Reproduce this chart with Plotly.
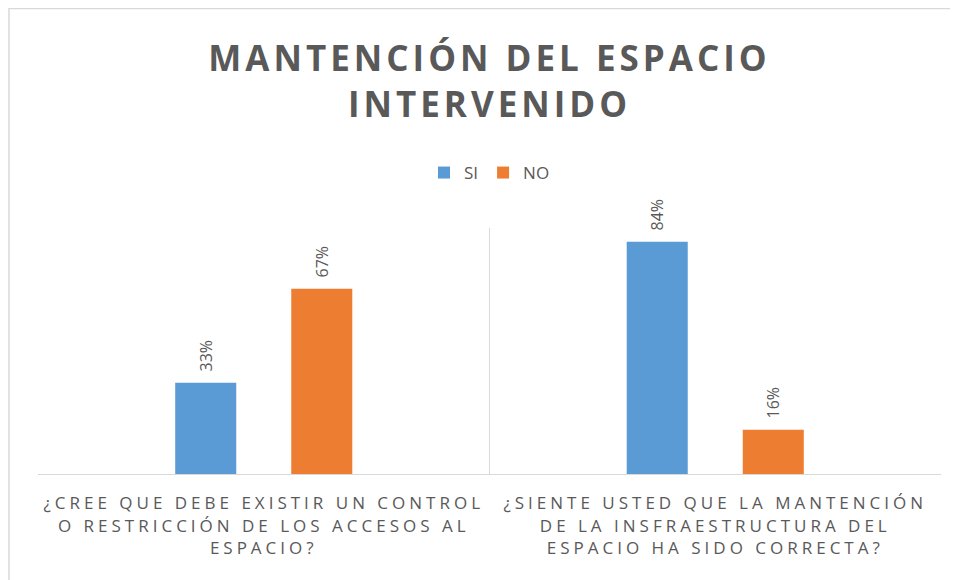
import plotly.graph_objects as go

categories = [
    "¿CREE QUE DEBE EXISTIR UN CONTROL<br>O RESTRICCIÓN DE LOS ACCESOS AL<br>ESPACIO?",
    "¿SIENTE USTED QUE LA MANTENCIÓN<br>DE LA INSFRAESTRUCTURA DEL<br>ESPACIO HA SIDO CORRECTA?",
]
si_values = [0.33, 0.84]
no_values = [0.67, 0.16]
series_names = ["SI", "NO"]
colors = ["#5B9BD5", "#ED7D31"]
title_text = "MANTENCIÓN DEL ESPACIO<br>INTERVENIDO"

txt = "#595959"
fig = go.Figure()
for name, vals, col in zip(series_names, [si_values, no_values], colors):
    fig.add_trace(go.Bar(
        name=name, x=categories, y=vals, marker=dict(color=col, line=dict(width=0)),
        texttemplate="\u00a0\u00a0%{y:.0%}", textposition="outside", textangle=-90,
        textfont=dict(color=txt, size=16, family="Open Sans"), cliponaxis=False,
    ))

# page body has an 8px margin, so the figure is laid out 8px in from the window
W, H = 950, 572
L, R, T, B = 30, 17, 220, 106
pw, ph = W - L - R, H - T - B

fig.update_layout(
    width=W, height=H,
    margin=dict(l=L, r=R, t=T, b=B),
    paper_bgcolor="white", plot_bgcolor="white",
    barmode="group", bargap=0.486, bargroupgap=0.474,
    title=dict(text=title_text, x=0.5, xanchor="center", xref="paper",
               y=1 - 63 / H, yanchor="middle",
               font=dict(family="Open Sans", size=35, color=txt, weight="bold")),
    legend=dict(orientation="h", x=0.5, xanchor="center", y=(466 - 165) / ph, yanchor="middle",
                font=dict(family="Open Sans", size=17, color=txt), itemwidth=30,
                traceorder="normal"),
    xaxis=dict(showgrid=True, tickson="boundaries", gridcolor="#D9D9D9", gridwidth=1,
               showline=True, linecolor="#D9D9D9", linewidth=1, ticks="",
               tickfont=dict(family="Open Sans", size=17, color=txt), tickangle=0,
               ticklabelstandoff=14),
    yaxis=dict(range=[0, 0.89], visible=False, showgrid=False),
    showlegend=True,
)
fig.add_shape(type="rect", xref="paper", yref="paper",
              x0=(1 - L) / pw, x1=(970 - L) / pw,
              y0=(466 - 600) / ph, y1=(466 - 0.5) / ph,
              line=dict(color="#D9D9D9", width=1.5), fillcolor="rgba(0,0,0,0)", layer="below")

spacing_js = """
document.querySelectorAll('.gtitle').forEach(function(t){t.style.letterSpacing='4px';});
document.querySelectorAll('.xtick text').forEach(function(t){t.style.letterSpacing='4px';});
"""
fig.write_html("out.html", post_script=spacing_js)
